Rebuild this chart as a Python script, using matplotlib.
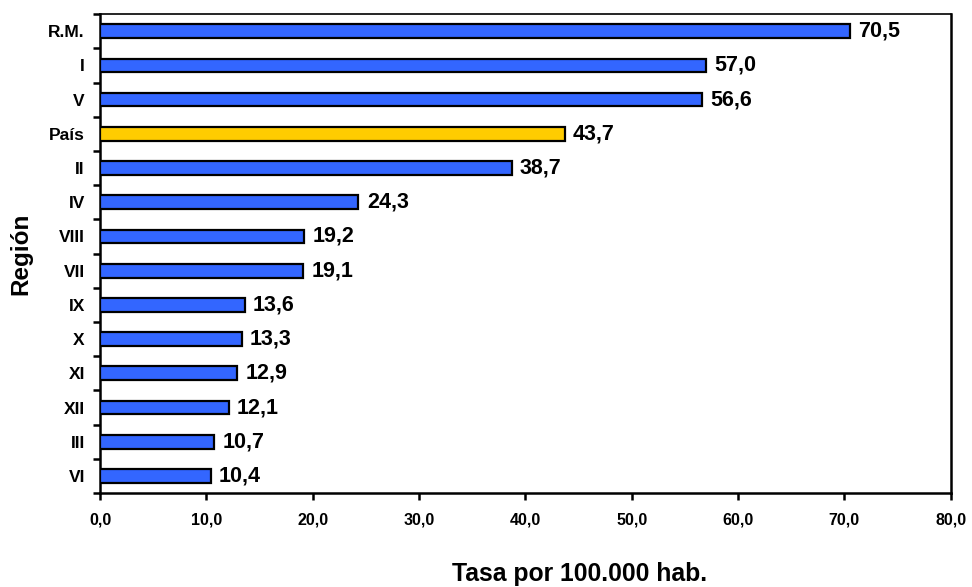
import matplotlib
matplotlib.use("Agg")
import matplotlib.pyplot as plt
from matplotlib.ticker import FixedLocator, FuncFormatter

regions = ["R.M.", "I", "V", "País", "II", "IV", "VIII", "VII", "IX", "X", "XI", "XII", "III", "VI"]
rates = [70.5, 57.0, 56.6, 43.7, 38.7, 24.3, 19.2, 19.1, 13.6, 13.3, 12.9, 12.1, 10.7, 10.4]
highlight = "País"
x_ticks = [0, 10, 20, 30, 40, 50, 60, 70, 80]

blue = "#3366FF"
yellow = "#FFCC00"

plt.rcParams['font.family'] = ['Liberation Sans', 'DejaVu Sans']
plt.rcParams['font.weight'] = 'bold'

fig = plt.figure(figsize=(9.72, 5.87), dpi=100)
ax = fig.add_axes([0.103, 0.160, 0.875, 0.816])

n = len(regions)
ypos = list(range(n))
colors = [yellow if r == highlight else blue for r in regions]
ax.barh(ypos, rates, height=0.4, color=colors, edgecolor='black', linewidth=1.6, zorder=3)

for y, v in zip(ypos, rates):
    ax.annotate(f"{v:.1f}".replace('.', ','), xy=(v, y), xytext=(6, 0),
                textcoords='offset points', va='center', ha='left',
                fontsize=15.5, fontweight='bold')

ax.set_xlim(0, 80)
ax.set_ylim(n - 0.5, -0.5)
ax.set_xticks(x_ticks)
ax.xaxis.set_major_formatter(FuncFormatter(lambda x, p: f"{x:.1f}".replace('.', ',')))
ax.tick_params(axis='x', direction='out', length=5, width=1.8, labelsize=11.5, pad=9)

ax.set_yticks(ypos)
ax.set_yticklabels(regions, fontsize=12.5, fontweight='bold')
ax.tick_params(axis='y', which='major', length=0, pad=11)
ax.yaxis.set_minor_locator(FixedLocator([i - 0.5 for i in range(n + 1)]))
ax.tick_params(axis='y', which='minor', direction='out', length=5, width=1.8)

for lab in ax.get_xticklabels():
    lab.set_fontweight('bold')

for s in ['left', 'bottom', 'right']:
    ax.spines[s].set_linewidth(1.8)
ax.spines['top'].set_linewidth(1.2)

fig.text(580 / 972, 1 - 574 / 587, "Tasa por 100.000 hab.", ha='center', va='center',
         fontsize=17.8, fontweight='bold')
fig.text(21 / 972, 1 - 253.5 / 587, "Región", ha='center', va='center', rotation=90,
         fontsize=17.5, fontweight='bold')

fig.savefig("out.png", dpi=100)
